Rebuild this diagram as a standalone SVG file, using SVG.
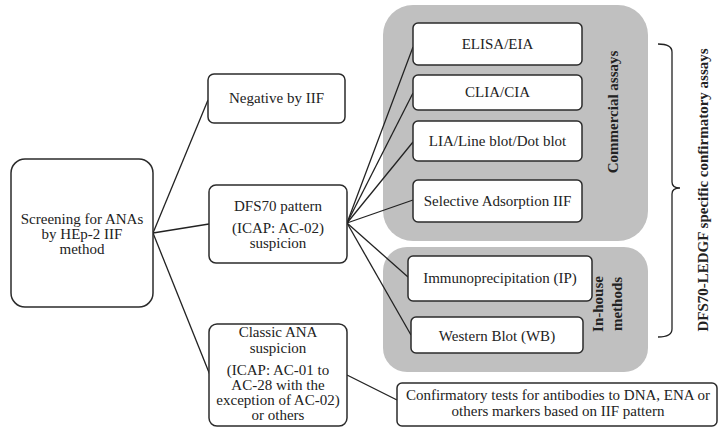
<svg xmlns="http://www.w3.org/2000/svg" width="719" height="428" viewBox="0 0 719 428">
<style>
.box{fill:#fff;stroke:#2b2b2b;stroke-width:1.5}
.grp{fill:#c0c0c0;stroke:none}
.t{font-family:"Liberation Serif","Times New Roman",serif;font-size:15px;fill:#222;text-anchor:middle}
.b{font-family:"Liberation Serif","Times New Roman",serif;font-size:15px;font-weight:bold;fill:#222;text-anchor:middle}
.c{fill:none;stroke:#222;stroke-width:1.3}
</style>
<rect width="719" height="428" fill="#fff"/>
<g id="commercial-group">
<rect class="grp" x="383" y="5" width="265" height="236" rx="30"/>
<text class="b" transform="translate(618,112) rotate(-90)">Commercial assays</text>
</g>
<g id="inhouse-group">
<rect class="grp" x="383" y="247" width="265" height="125" rx="24"/>
<text class="b" transform="translate(603,304) rotate(-90)">In-house</text>
<text class="b" transform="translate(622,304) rotate(-90)">methods</text>
</g>
<g id="connectors">
<line class="c" x1="153" y1="233" x2="208" y2="100"/>
<line class="c" x1="153" y1="233" x2="209" y2="224"/>
<line class="c" x1="153" y1="233" x2="210" y2="375"/>
<line class="c" x1="347" y1="223" x2="413" y2="47"/>
<line class="c" x1="347" y1="223" x2="413" y2="93"/>
<line class="c" x1="347" y1="223" x2="413" y2="142"/>
<line class="c" x1="347" y1="223" x2="413" y2="200"/>
<line class="c" x1="347" y1="223" x2="408" y2="277"/>
<line class="c" x1="347" y1="223" x2="411" y2="335"/>
<line class="c" x1="347" y1="375" x2="397" y2="400"/>
</g>
<g id="screening">
<rect class="box" x="11" y="159" width="142" height="148" rx="14"/>
<text class="t" x="82" y="224">Screening for ANAs</text>
<text class="t" x="82" y="239">by HEp-2 IIF</text>
<text class="t" x="82" y="254">method</text>
</g>
<g id="negative">
<rect class="box" x="208" y="74" width="137" height="49" rx="6"/>
<text class="t" x="276.5" y="103">Negative by IIF</text>
</g>
<g id="dfs70">
<rect class="box" x="209" y="185" width="138" height="78" rx="7"/>
<text class="t" x="278" y="211">DFS70 pattern</text>
<text class="t" x="278" y="233">(ICAP: AC-02)</text>
<text class="t" x="278" y="248">suspicion</text>
</g>
<g id="classic">
<rect class="box" x="209" y="324" width="138" height="102" rx="8"/>
<text class="t" x="278" y="337">Classic ANA</text>
<text class="t" x="278" y="353">suspicion</text>
<text class="t" x="278" y="375">(ICAP: AC-01 to</text>
<text class="t" x="278" y="390">AC-28 with the</text>
<text class="t" x="278" y="405">exception of AC-02)</text>
<text class="t" x="278" y="420">or others</text>
</g>
<g id="elisa">
<rect class="box" x="413" y="23" width="169" height="42" rx="5"/>
<text class="t" x="497.5" y="49">ELISA/EIA</text>
</g>
<g id="clia">
<rect class="box" x="413" y="75" width="169" height="35" rx="5"/>
<text class="t" x="497.5" y="97">CLIA/CIA</text>
</g>
<g id="lia">
<rect class="box" x="413" y="121" width="169" height="40" rx="5"/>
<text class="t" x="497.5" y="146">LIA/Line blot/Dot blot</text>
</g>
<g id="selective">
<rect class="box" x="413" y="180" width="169" height="42" rx="5"/>
<text class="t" x="497.5" y="206">Selective Adsorption IIF</text>
</g>
<g id="ip">
<rect class="box" x="408" y="256" width="184" height="45" rx="5"/>
<text class="t" x="500" y="283">Immunoprecipitation (IP)</text>
</g>
<g id="wb">
<rect class="box" x="411" y="317" width="172" height="36" rx="5"/>
<text class="t" x="497" y="341">Western Blot (WB)</text>
</g>
<g id="confirmatory">
<rect class="box" x="397" y="383" width="320" height="43" rx="5"/>
<text class="t" x="558" y="400">Confirmatory tests for antibodies to DNA, ENA or</text>
<text class="t" x="558" y="416">others markers based on IIF pattern</text>
</g>
<g id="brace">
<path class="c" d="M658,44 Q672,44 672,52 L672,182 Q672,188 680,188 Q672,188 672,194 L672,329 Q672,337 658,337"/>
<text class="b" transform="translate(708,190) rotate(-90)">DFS70-LEDGF specific confirmatory assays</text>
</g>
</svg>
